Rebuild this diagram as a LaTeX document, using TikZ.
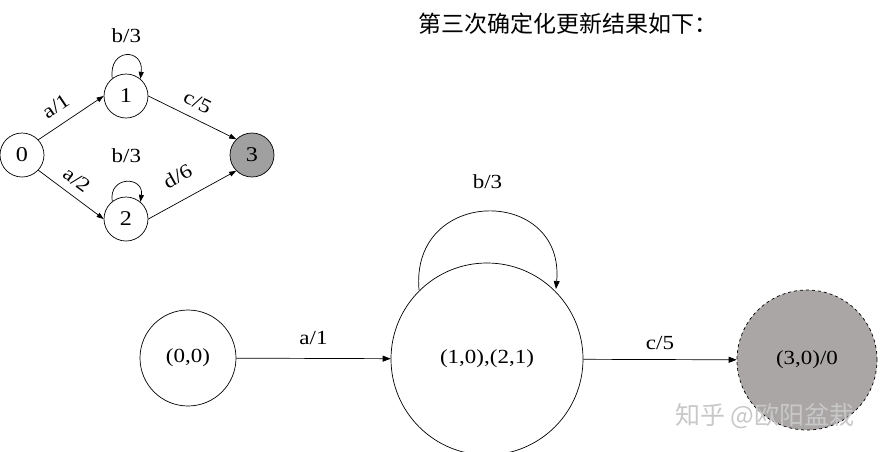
\documentclass[tikz,border=0pt]{standalone}
\usepackage{fontspec}
\setmainfont{Liberation Serif}
\newfontfamily\wide[FakeStretch=1.15]{Liberation Serif}
\newfontfamily\cjk{Noto Sans CJK SC}
\usetikzlibrary{arrows.meta}
\definecolor{finalgray}{RGB}{160,160,160}
\definecolor{finalgrayb}{RGB}{170,166,166}
\definecolor{wmgray}{RGB}{200,200,200}
\begin{document}
\begin{tikzpicture}[x=1pt,y=-1pt,
  sst/.style={circle,draw,line width=0.7pt,minimum size=44pt,inner sep=0pt,font=\wide\fontsize{21}{21}\selectfont},
  bst/.style={circle,draw,line width=0.7pt,inner sep=0pt,font=\wide\fontsize{20}{20}\selectfont},
  sarr/.style={-{Triangle[length=7pt,width=5pt]},line width=0.7pt},
  barr/.style={-{Triangle[length=8pt,width=6pt]},line width=0.7pt},
  slab/.style={font=\wide\fontsize{20}{20}\selectfont,inner sep=1pt},
  blab/.style={font=\wide\fontsize{20}{20}\selectfont,inner sep=1pt}]
\useasboundingbox (0,0) rectangle (881,451);
% small automaton
\node[sst] (n0) at (22,155) {0};
\node[sst] (n1) at (126,96) {1};
\node[sst] (n2) at (126,219) {2};
\node[sst,fill=finalgray] (n3) at (252,155) {3};
\draw[sarr] (n0.43) -- node[slab,sloped,above=10pt,pos=0.42] {a/1} (n1.west);
\draw[sarr] (n0.-43) -- node[slab,sloped,above=7pt,pos=0.45] {a/2} (n2.west);
\draw[sarr] (n1.east) -- node[slab,sloped,above=8pt,pos=0.48] {c/5} (n3.135);
\draw[sarr] (n2.east) -- node[slab,sloped,above=15pt,pos=0.46] {d/6} (n3.225);
\draw[sarr] (n1.128) .. controls +(-4,-31) and +(4,-31) .. node[slab,above=11pt] {b/3} (n1.50);
\draw[sarr] (n2.128) .. controls +(-4,-26) and +(4,-26) .. node[slab,above=18pt] {b/3} (n2.50);
% determinised automaton
\node[bst,minimum size=96pt] (A) at (188,358) {(0,0)};
\node[bst,minimum size=192pt] (B) at (487,359) {(1,0),(2,1)};
\node[bst,minimum size=140pt,dashed,fill=finalgrayb] (C) at (807,360) {(3,0)/0};
\draw[barr] (A) -- node[blab,above=12pt] {a/1} (B);
\draw[barr] (B) -- node[blab,above=9pt] {c/5} (C);
\coordinate (ls) at (419,290);
\coordinate (le) at (556,289);
\draw[barr] (ls) .. controls (410,186) and (565,186) .. node[blab,above=22pt] {b/3} (le);
% texts
\node[font=\cjk\fontsize{23}{23}\selectfont,inner sep=0pt] (title) at (568,24) {第三次确定化更新结果如下：};
\node[font=\cjk\fontsize{25}{25}\selectfont,text=wmgray,inner sep=0pt] (wm) at (765,416) {知乎 @欧阳盆栽};
\end{tikzpicture}
\end{document}
